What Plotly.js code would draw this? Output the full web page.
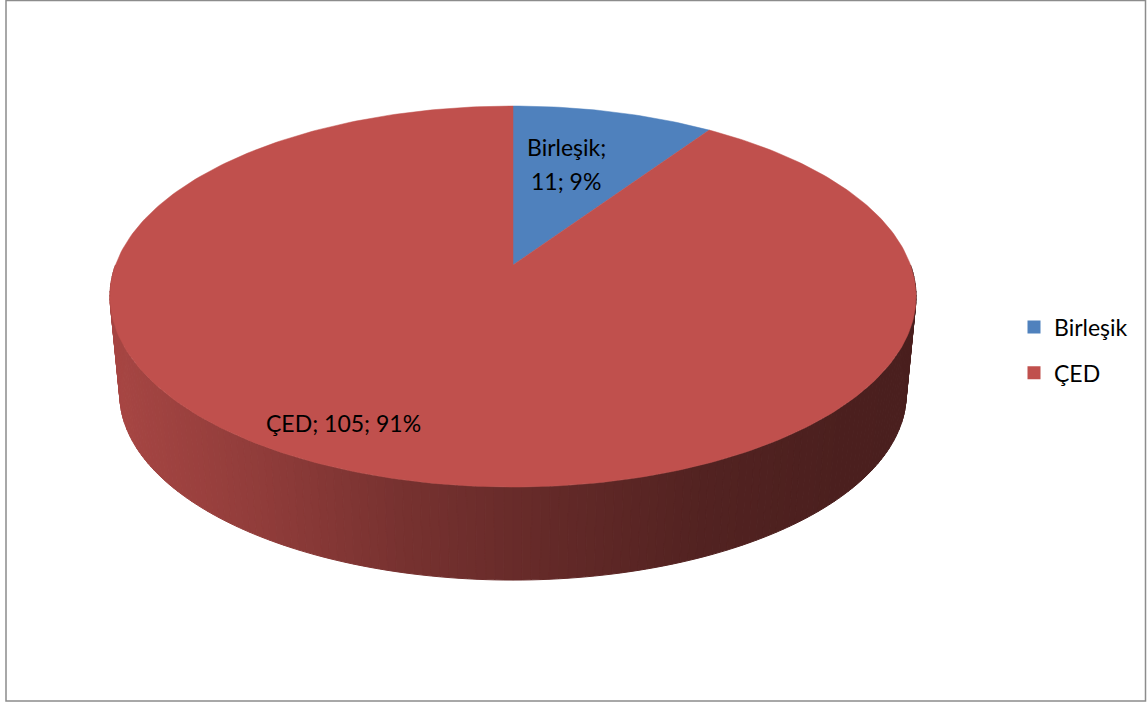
<!DOCTYPE html>
<html>
<head>
<meta charset="utf-8">
<script src="https://cdn.plot.ly/plotly-3.0.1.min.js"></script>
<style>html,body{margin:0;padding:0;background:#fff;}#chart{width:1148px;height:704px;}</style>
</head>
<body>
<div id="chart"></div>
<script>
// ---- data ----
const categories = ['Birleşik', 'ÇED'];
const values = [11, 105];
const sliceColors = ['#4F81BD', '#C0504D'];

// ---- geometry / style (pixel space) ----
const W = 1148, H = 704;
const CX = 513, CY = 265, A = 397.5, B = 185.3, P = 0.1654; // perspective disk
const VX = 513, VY = 4300, S = 0.9756;                      // side wall projection
const FONT = 'Lato, "Open Sans", sans-serif';
const shadeStops = [[110,0.87],[250,0.76],[400,0.62],[550,0.52],[700,0.43],[850,0.39],[925,0.385]];
const labelPos = [[566, 147, 34], [343, 423, 0]]; // x, first-line y, line gap

function topPt(phi, r) {
  const u = r * Math.cos(phi), v = r * Math.sin(phi);
  const w = 1 + P * v;
  return [CX + A * u / w, CY - B * v / w];
}
function botPt(phi) {
  const [x, y] = topPt(phi, 1);
  return [VX + (x - VX) * S, VY + (y - VY) * S];
}
function hexToRgb(h) { const n = parseInt(h.slice(1), 16); return [(n >> 16) & 255, (n >> 8) & 255, n & 255]; }
function shade(x) {
  if (x <= shadeStops[0][0]) return shadeStops[0][1];
  for (let i = 1; i < shadeStops.length; i++) {
    if (x <= shadeStops[i][0]) {
      const [x0, f0] = shadeStops[i - 1], [x1, f1] = shadeStops[i];
      return f0 + (f1 - f0) * (x - x0) / (x1 - x0);
    }
  }
  return shadeStops[shadeStops.length - 1][1];
}

const total = values.reduce((a, b) => a + b, 0);
// slice angles: start at 12 o'clock, clockwise
const slices = [];
let cum = 0;
values.forEach((v, i) => {
  const a0 = Math.PI / 2 - 2 * Math.PI * cum / total;
  cum += v;
  const a1 = Math.PI / 2 - 2 * Math.PI * cum / total;
  slices.push({ a0, a1, color: sliceColors[i], name: categories[i], value: v });
});
function sliceAt(phi) {
  for (const s of slices) {
    for (let k = -2; k <= 2; k++) {
      const p = phi + 2 * Math.PI * k;
      if (p <= s.a0 && p >= s.a1) return s;
    }
  }
  return slices[slices.length - 1];
}

const traces = [];
// side wall (front half) as shaded strips
const N = 160;
for (let i = 0; i < N; i++) {
  const p0 = Math.PI + Math.PI * i / N, p1 = Math.PI + Math.PI * (i + 1) / N;
  const t0 = topPt(p0, 1), t1 = topPt(p1, 1), b1 = botPt(p1), b0 = botPt(p0);
  const s = sliceAt((p0 + p1) / 2);
  const f = shade((t0[0] + t1[0]) / 2);
  const rgb = hexToRgb(s.color).map(c => Math.round(c * f));
  const col = `rgb(${rgb[0]},${rgb[1]},${rgb[2]})`;
  traces.push({
    type: 'scatter', mode: 'lines', x: [t0[0], t1[0], b1[0], b0[0], t0[0]], y: [t0[1], t1[1], b1[1], b0[1], t0[1]],
    fill: 'toself', fillcolor: col, line: { color: col, width: 1 }, hoverinfo: 'skip', showlegend: false
  });
}
// top faces
slices.forEach(s => {
  const xs = [CX], ys = [CY];
  const steps = Math.max(8, Math.ceil(Math.abs(s.a0 - s.a1) / (Math.PI / 180)));
  for (let k = 0; k <= steps; k++) {
    const phi = s.a0 + (s.a1 - s.a0) * k / steps;
    const [x, y] = topPt(phi, 1);
    xs.push(x); ys.push(y);
  }
  xs.push(CX); ys.push(CY);
  traces.push({
    type: 'scatter', mode: 'lines', x: xs, y: ys, fill: 'toself', fillcolor: s.color,
    line: { color: s.color, width: 0.5 }, hoverinfo: 'skip', showlegend: false, name: s.name
  });
});
// legend entries
categories.forEach((c, i) => {
  traces.push({
    type: 'scatter', mode: 'markers', x: [null], y: [null], name: c, legendgroup: 'g' + i,
    marker: { symbol: 'square', size: 13, color: sliceColors[i] }, showlegend: true
  });
});

// labels
const annotations = [];
slices.forEach((s, i) => {
  const pct = Math.round(100 * s.value / total);
  const lines = labelPos[i][2] > 0 ? [s.name + ';', s.value + '; ' + pct + '%'] : [s.name + '; ' + s.value + '; ' + pct + '%'];
  lines.forEach((t, k) => {
    annotations.push({
      x: labelPos[i][0], y: labelPos[i][1] + k * labelPos[i][2], xref: 'x', yref: 'y', text: t, showarrow: false,
      font: { family: FONT, size: 23, color: '#000' }, xanchor: 'center', yanchor: 'middle'
    });
  });
});

const layout = {
  width: W, height: H, margin: { l: 0, r: 0, t: 0, b: 0 },
  paper_bgcolor: '#fff', plot_bgcolor: '#fff',
  xaxis: { range: [0, W], visible: false, fixedrange: true },
  yaxis: { range: [H, 0], visible: false, fixedrange: true },
  showlegend: true,
  legend: { x: 1014 / W, y: 354 / H, xanchor: 'left', yanchor: 'middle', traceorder: 'grouped', tracegroupgap: 13,
            font: { family: FONT, size: 23, color: '#000' }, bgcolor: 'rgba(0,0,0,0)' },
  annotations,
  shapes: [{ type: 'rect', xref: 'x', yref: 'y', x0: 6, x1: 1145.5, y0: 0.5, y1: 701, line: { color: '#8c8c8c', width: 1.5 } }]
};
Plotly.newPlot('chart', traces, layout, { staticPlot: true, displayModeBar: false });
</script>
</body>
</html>
